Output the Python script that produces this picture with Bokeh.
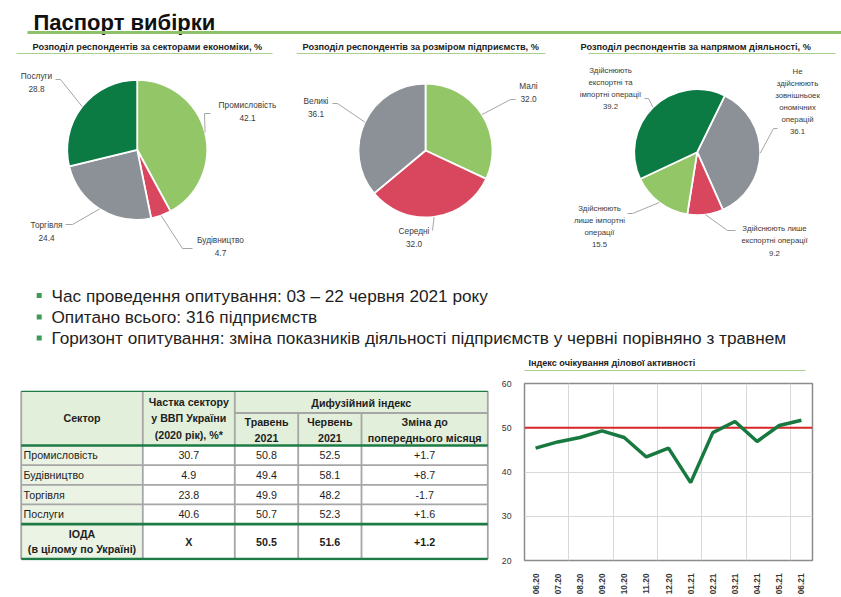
import numpy as np
from bokeh.plotting import figure
from bokeh.models import Range1d, FixedTicker, ColumnDataSource, Span
from bokeh.layouts import column, row
from bokeh.core.properties import value
from bokeh.embed import file_html
from bokeh.resources import INLINE

# ---------------- data ----------------
sector_labels = ["Промисловість", "Будівництво", "Торгівля", "Послуги"]
sector_values = [42.1, 4.7, 24.4, 28.8]

size_labels = ["Малі", "Середні", "Великі"]
size_values = [32.0, 32.0, 36.1]

trade_labels = ["Не\nздійснюють\nзовнішньоек\nономічних\nоперацій",
                "Здійснюють лише\nекспортні операції",
                "Здійснюють\nлише імпортні\nоперації",
                "Здійснюють\nекспортні та\nімпортні операції"]
trade_values = [36.1, 9.2, 15.5, 39.2]

bullets = ["Час проведення опитування: 03 – 22 червня 2021 року",
           "Опитано всього: 316 підприємств",
           "Горизонт опитування: зміна показників діяльності підприємств у червні порівняно з травнем"]

table_sectors = ["Промисловість", "Будівництво", "Торгівля", "Послуги"]
gdp_share = [30.7, 4.9, 23.8, 40.6]
index_may = [50.8, 49.4, 49.9, 50.7]
index_june = [52.5, 58.1, 48.2, 52.3]
index_change = [1.7, 8.7, -1.7, 1.6]
ioda_may = 50.5
ioda_june = 51.6
ioda_change = 1.2

months = ["06.20", "07.20", "08.20", "09.20", "10.20", "11.20", "12.20",
          "01.21", "02.21", "03.21", "04.21", "05.21", "06.21"]
expect_index = [45.4, 46.8, 47.8, 49.3, 47.8, 43.4, 45.4, 37.6, 48.9, 51.4, 46.9, 50.5, 51.7]
threshold = 50
y_ticks = [20, 30, 40, 50, 60]

# ---------------- style ----------------
FONT = value("Liberation Sans")
LGREEN = "#93C666"
DGREEN = "#0B7A43"
RED = "#D9475F"
GRAY = "#8B9197"
LINE_GREEN = "#8DC26B"
SUB_LINE = "#A9D08E"
TXT = "#3A3A3A"

# bottom row frame geometry (shared so the row's frame alignment keeps 1px = 1 unit)
B_TOP, B_BOTTOM = 8, 34


def Y(s):
    # page pixel row -> data y (both canvases share this mapping)
    return 597 - s


def blank(width, height, xr, yr, **kw):
    p = figure(width=width, height=height, x_range=Range1d(*xr), y_range=Range1d(*yr),
               toolbar_location=None, output_backend="svg",
               x_axis_location=None, y_axis_location=None, **kw)
    p.grid.visible = False
    p.outline_line_color = None
    p.background_fill_color = "white"
    p.border_fill_color = "white"
    return p


top = blank(841, 375, (0, 841), (222, 597), min_border=0)

# title
top.text(x=[33], y=[Y(21.5)], text=["Паспорт вибірки"], text_font=FONT, text_font_style="bold",
         text_font_size=value("22px"), text_baseline="alphabetic", text_color="#111111")
top.segment(x0=[27], y0=[Y(32)], x1=[841], y1=[Y(32)], line_color=LINE_GREEN, line_width=3)

# subtitles
subs = ["Розподіл респондентів за секторами  економіки, %",
        "Розподіл респондентів за розміром  підприємств,  %",
        "Розподіл респондентів за напрямом  діяльності, %"]
top.text(x=[32, 302, 580], y=[Y(46.5)] * 3, text=subs, text_font=FONT, text_font_style="bold",
         text_font_size=value("9.2px"), text_baseline="middle", text_color="#222222")
top.segment(x0=[16, 296, 588], y0=[Y(53)] * 3, x1=[272, 545, 835], y1=[Y(53)] * 3,
            line_color=SUB_LINE, line_width=1.2)


def draw_pie(p, cx, cy, r, values, colors, start_deg, labels, label_xy, elbows,
             font_size, line_height, digits=1):
    vals = np.array(values, dtype=float)
    fr = np.concatenate([[0], np.cumsum(vals)]) / vals.sum()
    base = np.pi / 2 - np.radians(start_deg)
    a0 = base - 2 * np.pi * fr[:-1]
    a1 = base - 2 * np.pi * fr[1:]
    src = ColumnDataSource(dict(sa=a1, ea=a0, c=colors))
    p.wedge(x=cx, y=Y(cy), radius=r, start_angle="sa", end_angle="ea",
            fill_color="c", line_color="white", line_width=1.8, source=src)
    mid = (a0 + a1) / 2
    xs, ys = [], []
    for m, el in zip(mid, elbows):
        ex = cx + r * np.cos(m)
        ey = Y(cy) + r * np.sin(m)
        xs.append([ex] + [e[0] for e in el])
        ys.append([ey] + [Y(e[1]) for e in el])
    p.multi_line(xs=xs, ys=ys, line_color="#A6A6A6", line_width=1)
    texts = [f"{lab}\n{v:.{digits}f}" for lab, v in zip(labels, values)]
    p.text(x=[q[0] for q in label_xy], y=[Y(q[1]) for q in label_xy], text=texts,
           text_font=FONT, text_font_size=value(font_size), text_align="center",
           text_baseline="middle", text_line_height=line_height, text_color=TXT)


draw_pie(top, 136.7, 149.3, 70, sector_values, [LGREEN, RED, GRAY, DGREEN], 0, sector_labels,
         [(247, 110.5), (220, 246), (46, 230.5), (36, 82)],
         [[(204, 113), (210, 113)], [(182, 248), (192, 248)], [(72, 224), (65, 224)],
          [(60, 79), (55, 79)]], "8.3px", 1.3)

draw_pie(top, 425, 150, 67, size_values, [LGREEN, RED, GRAY], 0, size_labels,
         [(528, 91.5), (413.5, 237), (315.5, 107)],
         [[(510, 99), (515, 99)], [(432, 230), (432, 230)], [(337, 103), (332, 103)]],
         "8.3px", 1.3)

draw_pie(top, 696.7, 151.7, 63, trade_values, [GRAY, RED, LGREEN, DGREEN], 26, trade_labels,
         [(797, 101), (774, 240.5), (599, 226), (610, 88)],
         [[(773, 128), (777, 128)], [(727, 230), (735, 230)], [(632, 213), (627, 213)],
          [(648, 98), (644, 98)]], "7.8px", 1.35)

# bullets
by = [295, 316.5, 337.5]
top.scatter(x=[38.7] * 3, y=[Y(v) for v in by], marker="square", size=5,
            fill_color="#3D9B57", line_color=None)
top.text(x=[51] * 3, y=[Y(v) for v in by], text=bullets, text_font=FONT,
         text_font_size=value("17.2px"), text_baseline="middle", text_color="#1E1E1E")

# line chart title (lives above the chart canvas)
top.text(x=[528], y=[Y(362.3)], text=["Індекс очікування ділової активності"], text_font=FONT,
         text_font_style="bold", text_font_size=value("9.1px"), text_baseline="middle",
         text_color="#222222")
top.segment(x0=[524], y0=[Y(370)], x1=[805], y1=[Y(370)], line_color=SUB_LINE, line_width=1.2)

# ---------------- table ----------------
tbl = blank(495, 222, (0, 495), (Y(597 - B_BOTTOM), Y(375 + B_TOP)),
            min_border_left=0, min_border_right=0, min_border_top=B_TOP, min_border_bottom=B_BOTTOM)
cx_ = [20.7, 142.3, 234.3, 297.7, 361, 487.3]
r_top, r_sub, r_hdr = 391, 413, 446
row_edges = [446, 466, 486, 506, 526]
r_bot = 561.5
HDR = "#E2EFDA"
COL0 = "#EBF3E4"

ql, qr, qt, qb = [], [], [], []
for (l, rr, t, b) in [(cx_[0], cx_[1], r_top, r_hdr), (cx_[1], cx_[2], r_top, r_hdr),
                      (cx_[2], cx_[5], r_top, r_sub), (cx_[2], cx_[3], r_sub, r_hdr),
                      (cx_[3], cx_[4], r_sub, r_hdr), (cx_[4], cx_[5], r_sub, r_hdr)]:
    ql.append(l); qr.append(rr); qt.append(Y(t)); qb.append(Y(b))
tbl.quad(left=ql, right=qr, top=qt, bottom=qb, fill_color=HDR, line_color=None)
tbl.quad(left=cx_[0], right=cx_[1], top=Y(r_hdr), bottom=Y(r_bot), fill_color=COL0, line_color=None)

# grey grid lines
gx0 = [cx_[2], cx_[0], cx_[0], cx_[0]]
gx1 = [cx_[5]] * 4
gy = [r_sub, row_edges[1], row_edges[2], row_edges[3]]
tbl.segment(x0=gx0, y0=[Y(v) for v in gy], x1=gx1, y1=[Y(v) for v in gy], line_color="#A6A6A6", line_width=1.8)
vx = cx_
vt = [r_top, r_top, r_top, r_sub, r_sub, r_top]
tbl.segment(x0=vx, y0=[Y(v) for v in vt], x1=vx, y1=[Y(r_bot)] * 6, line_color="#A6A6A6", line_width=1.8)
# green rules
tbl.segment(x0=[cx_[0]], y0=[Y(r_top)], x1=[cx_[5]], y1=[Y(r_top)], line_color="#1E7B45", line_width=1.2)
tbl.segment(x0=[cx_[0]] * 3, y0=[Y(v) for v in (r_hdr, row_edges[4], r_bot)], x1=[cx_[5]] * 3,
            y1=[Y(v) for v in (r_hdr, row_edges[4], r_bot)], line_color="#1E7B45", line_width=2.6)

mids = [(cx_[i] + cx_[i + 1]) / 2 for i in range(5)]
TF = value("10.7px")
# headers
tbl.text(x=[mids[0], mids[1]], y=[Y(418.5), Y(418.5)],
         text=["Сектор", "Частка сектору\nу ВВП України\n(2020 рік), %*"], text_font=FONT,
         text_font_style="bold", text_font_size=TF, text_align="center", text_baseline="middle",
         text_line_height=1.38, text_color="#1E1E1E")
tbl.text(x=[(cx_[2] + cx_[5]) / 2], y=[Y(402.5)], text=["Дифузійний індекс"], text_font=FONT,
         text_font_style="bold", text_font_size=TF, text_align="center", text_baseline="middle",
         text_color="#1E1E1E")
tbl.text(x=mids[2:], y=[Y(430.3)] * 3, text=["Травень\n2021", "Червень\n2021", "Зміна до\nпопереднього місяця"],
         text_font=FONT, text_font_style="bold", text_font_size=TF, text_align="center",
         text_baseline="middle", text_line_height=1.32, text_color="#1E1E1E")
# rows
rc = [(row_edges[i] + row_edges[i + 1]) / 2 for i in range(4)]
tbl.text(x=[23] * 4, y=[Y(v) for v in rc], text=table_sectors, text_font=FONT, text_font_size=TF,
         text_baseline="middle", text_color="#1E1E1E")
for col, vals in zip(mids[1:], [[f"{v:.1f}" for v in gdp_share], [f"{v:.1f}" for v in index_may],
                                [f"{v:.1f}" for v in index_june], [f"{v:+.1f}" for v in index_change]]):
    tbl.text(x=[col] * 4, y=[Y(v) for v in rc], text=vals, text_font=FONT, text_font_size=TF,
             text_align="center", text_baseline="middle", text_color="#1E1E1E")
iy = (row_edges[4] + r_bot) / 2
tbl.text(x=mids, y=[Y(iy)] * 5,
         text=["ІОДА\n(в цілому по Україні)", "X", f"{ioda_may:.1f}", f"{ioda_june:.1f}", f"{ioda_change:+.1f}"],
         text_font=FONT, text_font_style="bold", text_font_size=TF, text_align="center",
         text_baseline="middle", text_line_height=1.32, text_color="#1E1E1E")

# ---------------- line chart ----------------
lc = figure(width=346, height=222, x_range=Range1d(-0.5, len(months) - 0.5), y_range=Range1d(20, 60),
            toolbar_location=None, output_backend="svg",
            min_border_left=29, min_border_right=29, min_border_top=B_TOP, min_border_bottom=B_BOTTOM)
lc.outline_line_color = "#8C8C8C"
lc.outline_line_width = 1.5
lc.background_fill_color = "white"
lc.border_fill_color = "white"
xs_idx = list(range(len(months)))
lc.xaxis.ticker = FixedTicker(ticks=xs_idx)
lc.xaxis.major_label_overrides = {i: m for i, m in enumerate(months)}
lc.xaxis.major_label_orientation = np.pi / 2
lc.xgrid.ticker = FixedTicker(ticks=[i + 1.5 for i in range(0, len(months) - 1, 2)])
lc.yaxis.ticker = FixedTicker(ticks=y_ticks)
for ax in (lc.xaxis, lc.yaxis):
    ax.axis_line_color = None
    ax.major_tick_line_color = None
    ax.minor_tick_line_color = None
    ax.major_label_text_font = "Liberation Sans"
    ax.major_label_text_color = "#333333"
lc.xaxis.major_label_text_font_size = "8.3px"
lc.xaxis.major_label_text_font_style = "bold"
lc.yaxis.major_label_text_font_size = "8.7px"
lc.xaxis.major_label_standoff = 7
lc.yaxis.major_label_standoff = 7
lc.grid.grid_line_color = "#D9D9D9"
lc.grid.grid_line_width = 1
span = Span(location=threshold, dimension="width", line_color="#D62728", line_width=2, level="underlay")
lc.add_layout(span)
lc.line(x=xs_idx, y=expect_index, line_color="#17793F", line_width=3.5)

layout = column(top, row(tbl, lc))
open("out.html", "w").write(file_html(layout, INLINE))
